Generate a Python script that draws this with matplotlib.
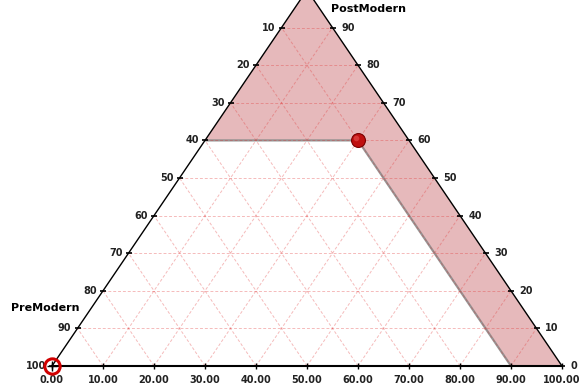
# ternary-style region plot: PreModern / PostModern

import matplotlib.pyplot as plt

# Data (bottom position, height) in percent
bottom_ticks = [0, 10, 20, 30, 40, 50, 60, 70, 80, 90, 100]
height_ticks = [0, 10, 20, 30, 40, 50, 60, 70, 80, 90]
left_labels = [100, 90, 80, 70, 60, 50, 40, 30, 20, 10]   # PreModern axis
right_labels = [0, 10, 20, 30, 40, 50, 60, 70, 80, 90]    # PostModern axis

region_x = [30, 60, 90, 100, 50]
region_h = [60, 60, 0, 0, 100]

point_x = 60
point_h = 60

origin_x = 0
origin_h = 0

fig = plt.figure(figsize=(5.86, 3.90), dpi=100)
ax = fig.add_axes([52 / 586, 24 / 390, 510 / 586, 376 / 390])
ax.set_xlim(0, 100)
ax.set_ylim(0, 100)
ax.axis('off')

grid_kw = dict(color='#e03030', alpha=0.33, lw=0.7, linestyle=(0, (3, 2)), zorder=3)

# horizontal grid lines
for h in height_ticks[1:]:
    ax.plot([h / 2, 100 - h / 2], [h, h], **grid_kw)

# lines parallel to both side edges
for x0 in bottom_ticks[1:-1]:
    ax.plot([x0, x0 + (100 - x0) / 2], [0, 100 - x0], **grid_kw)
    ax.plot([x0, x0 / 2], [0, x0], **grid_kw)

# shaded region with grey inner edge
ax.fill(region_x, region_h, color='#e6b9bb', zorder=2, lw=0)
ax.plot(region_x[:3], region_h[:3], color='#8c8c8c', lw=1.6, alpha=0.9, zorder=2.5,
        solid_capstyle='butt')

# triangle edges
ax.plot([0, 50, 100], [0, 100, 0], color='black', lw=1.0, zorder=4, clip_on=False)
ax.plot([0, 100], [0, 0], color='black', lw=1.5, zorder=4, clip_on=False)

# ticks and labels
for x in bottom_ticks:
    ax.plot([x], [0], marker='|', color='black', ms=4, mew=1, zorder=5, clip_on=False)
    ax.text(x, -3.7, f"{x:.2f}", ha='center', va='center', fontsize=7,
            fontweight='bold', color='#222222')

for h, lab in zip(height_ticks, left_labels):
    ax.plot([h / 2], [h], marker='_', color='black', ms=4.5, mew=1.2, zorder=5, clip_on=False)
    ax.text(h / 2 - 1.2, h, str(lab), ha='right', va='center', fontsize=7,
            fontweight='bold', color='#222222')

for h, lab in zip(height_ticks, right_labels):
    ax.plot([100 - h / 2], [h], marker='_', color='black', ms=4.5, mew=1.2, zorder=5,
            clip_on=False)
    ax.text(100 - h / 2 + 1.7, h, str(lab), ha='left', va='center', fontsize=7,
            fontweight='bold', color='#222222')

# axis titles
ax.text(-8.0, 15.4, "PreModern", ha='left', va='center', fontsize=8, fontweight='bold')
ax.text(54.7, 94.9, "PostModern", ha='left', va='center', fontsize=8, fontweight='bold')

# selected point
ax.plot([point_x], [point_h], marker='o', ms=10, color='#c01010', mec='#7a0000',
        mew=0.8, zorder=6)
ax.plot([point_x - 0.4], [point_h + 0.6], marker='o', ms=4, color='#e85050',
        alpha=0.6, mew=0, zorder=6.5)

# origin marker
ax.plot([origin_x], [origin_h], marker='o', ms=11, mfc='none', mec='#d00000', mew=2.2,
        zorder=7, clip_on=False)
ax.plot([origin_x], [origin_h], marker='+', ms=7, color='black', mew=1, zorder=7.5,
        clip_on=False)

fig.savefig('out.png', dpi=100)
